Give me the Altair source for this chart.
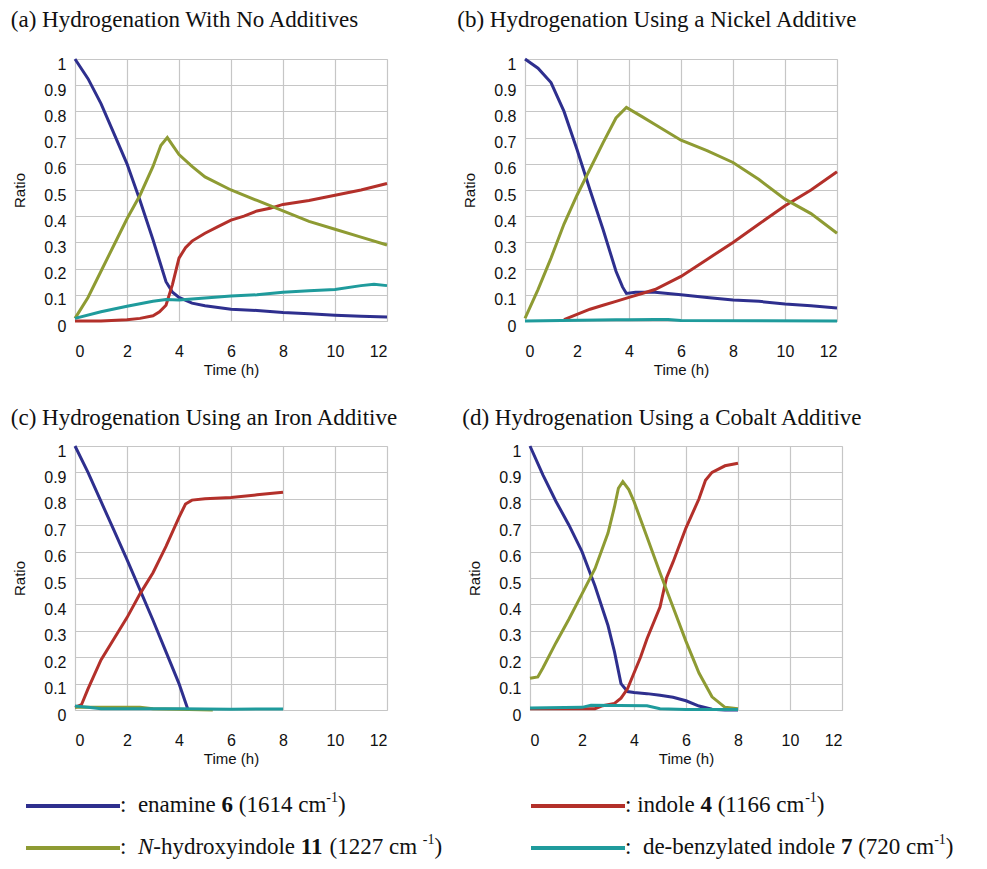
import altair as alt
import pandas as pd

# ---------------- data ----------------
TIME_TICKS = [0, 2, 4, 6, 8, 10, 12]
RATIO_TICKS = [0, 0.1, 0.2, 0.3, 0.4, 0.5, 0.6, 0.7, 0.8, 0.9, 1]

SERIES = ["enamine 6", "indole 4", "N-hydroxyindole 11", "de-benzylated indole 7"]
COLORS = ["#2e2f8e", "#b3302a", "#8e9b33", "#1f9b9c"]

PANEL_TITLES = [
    "(a) Hydrogenation With No Additives",
    "(b) Hydrogenation Using a Nickel Additive",
    "(c) Hydrogenation Using an Iron Additive",
    "(d) Hydrogenation Using a Cobalt Additive",
]

# (a) no additives
A_ENAMINE = [(0, 1.0), (0.5, 0.925), (1, 0.83), (1.5, 0.715), (2, 0.60), (2.5, 0.46), (3, 0.31),
             (3.25, 0.23), (3.5, 0.15), (3.75, 0.11), (4, 0.09), (4.5, 0.068), (5, 0.058), (6, 0.045),
             (7, 0.04), (8, 0.032), (9, 0.028), (10, 0.022), (11, 0.018), (12, 0.015)]
A_INDOLE = [(0, 0.0), (1, 0.0), (2, 0.005), (2.5, 0.01), (3, 0.02), (3.25, 0.035), (3.5, 0.06),
            (3.75, 0.14), (4, 0.24), (4.25, 0.28), (4.5, 0.305), (5, 0.335), (5.5, 0.36),
            (6, 0.385), (6.5, 0.40), (7, 0.42), (7.5, 0.43), (8, 0.445), (9, 0.46), (10, 0.48),
            (11, 0.50), (12, 0.525)]
A_HYDROXY = [(0, 0.01), (0.5, 0.09), (1, 0.19), (1.5, 0.29), (2, 0.39), (2.5, 0.48), (3, 0.59),
             (3.3, 0.67), (3.55, 0.70), (4, 0.635), (4.5, 0.59), (5, 0.55), (6, 0.50), (7, 0.46),
             (7.5, 0.44), (8, 0.42), (9, 0.38), (10, 0.35), (11, 0.32), (12, 0.29)]
A_DEBENZYL = [(0, 0.01), (1, 0.035), (2, 0.056), (3, 0.075), (3.5, 0.082), (4, 0.08), (5, 0.088),
              (6, 0.095), (7, 0.10), (8, 0.11), (9, 0.115), (10, 0.12), (11, 0.135), (11.5, 0.14),
              (12, 0.135)]

# (b) nickel additive
B_ENAMINE = [(0, 1.0), (0.5, 0.965), (1, 0.91), (1.5, 0.80), (2, 0.655), (2.5, 0.50), (3, 0.35),
             (3.5, 0.19), (3.75, 0.13), (3.9, 0.105), (4.25, 0.11), (5, 0.11), (6, 0.10), (7, 0.09),
             (8, 0.08), (9, 0.075), (10, 0.065), (11, 0.058), (12, 0.05)]
B_INDOLE = [(1.5, 0.005), (2, 0.025), (2.5, 0.045), (3, 0.06), (3.5, 0.075), (4, 0.09), (4.5, 0.105),
            (5, 0.12), (6, 0.17), (7, 0.235), (8, 0.30), (9, 0.37), (10, 0.44), (11, 0.50), (12, 0.57)]
B_HYDROXY = [(0, 0.01), (0.5, 0.12), (1, 0.24), (1.5, 0.37), (2, 0.48), (2.5, 0.58), (3, 0.68),
             (3.5, 0.775), (3.9, 0.815), (4.5, 0.78), (5, 0.75), (6, 0.69), (7, 0.65), (8, 0.605),
             (9, 0.54), (10, 0.465), (11, 0.41), (12, 0.335)]
B_DEBENZYL = [(0, 0.0), (3.5, 0.005), (4, 0.005), (5, 0.006), (5.5, 0.006), (6, 0.002), (12, 0.0)]

# (c) iron additive
C_ENAMINE = [(0, 1.0), (0.5, 0.90), (1, 0.79), (1.5, 0.68), (2, 0.57), (2.5, 0.455), (3, 0.34),
             (3.5, 0.22), (4, 0.10), (4.35, 0.0)]
C_INDOLE = [(0, 0.01), (0.25, 0.02), (0.5, 0.08), (1, 0.19), (1.5, 0.27), (2, 0.35), (2.5, 0.44),
            (3, 0.52), (3.5, 0.62), (4, 0.73), (4.25, 0.78), (4.5, 0.795), (5, 0.80), (6, 0.805),
            (7, 0.815), (8, 0.825)]
C_HYDROXY = [(0, 0.01), (2.5, 0.01), (3, 0.005), (5.3, 0.0)]
C_DEBENZYL = [(0, 0.015), (0.5, 0.01), (1, 0.005), (4, 0.005), (6, 0.003), (8, 0.004)]

# (d) cobalt additive
D_ENAMINE = [(0, 1.0), (0.5, 0.89), (1, 0.79), (1.5, 0.70), (2, 0.60), (2.5, 0.47), (3, 0.32),
             (3.25, 0.22), (3.5, 0.10), (3.75, 0.07), (4, 0.066), (4.5, 0.062), (5, 0.056),
             (5.5, 0.048), (6, 0.035), (6.5, 0.015), (7, 0.003), (7.5, 0.0), (8, 0.0)]
D_INDOLE = [(0, 0.005), (2.5, 0.005), (2.75, 0.015), (3.25, 0.025), (3.5, 0.045), (3.75, 0.08),
            (4, 0.14), (4.25, 0.20), (4.5, 0.27), (5, 0.39), (5.25, 0.50), (5.5, 0.56), (6, 0.69),
            (6.5, 0.80), (6.75, 0.87), (7, 0.90), (7.5, 0.925), (8, 0.935)]
D_HYDROXY = [(0, 0.12), (0.3, 0.125), (0.5, 0.16), (1, 0.255), (1.5, 0.345), (2, 0.44), (2.5, 0.535),
             (3, 0.67), (3.25, 0.77), (3.4, 0.84), (3.57, 0.865), (3.8, 0.835), (4, 0.79), (4.5, 0.655),
             (5, 0.52), (5.5, 0.39), (6, 0.26), (6.5, 0.14), (7, 0.05), (7.5, 0.01), (8, 0.005)]
D_DEBENZYL = [(0, 0.008), (2, 0.01), (2.35, 0.018), (4.5, 0.016), (5, 0.005), (6, 0.002), (8, 0.002)]

PANEL_DATA = [
    [A_ENAMINE, A_INDOLE, A_HYDROXY, A_DEBENZYL],
    [B_ENAMINE, B_INDOLE, B_HYDROXY, B_DEBENZYL],
    [C_ENAMINE, C_INDOLE, C_HYDROXY, C_DEBENZYL],
    [D_ENAMINE, D_INDOLE, D_HYDROXY, D_DEBENZYL],
]

# legend texts: (segment, style)
LEGEND_TEXTS = [
    [(":", "normal"), ("  enamine ", "normal"), ("6", "bold"), (" (1614 cm", "normal"),
     ("-1", "sup"), (")", "normal")],
    [(":", "normal"), (" indole ", "normal"), ("4", "bold"), (" (1166 cm", "normal"),
     ("-1", "sup"), (")", "normal")],
    [(":", "normal"), ("  ", "normal"), ("N", "italic"), ("-hydroxyindole ", "normal"), ("11", "bold"),
     (" (1227 cm ", "normal"), ("-1", "sup"), (")", "normal")],
    [(":", "normal"), ("  de-benzylated indole ", "normal"), ("7", "bold"), (" (720 cm", "normal"),
     ("-1", "sup"), (")", "normal")],
]

# ---------------- styling ----------------
SERIF = "Liberation Serif"
SANS = "Liberation Sans"
PW = 312
TITLE_SIZE = 23
LEG_SIZE = 23
SUP_SIZE = 14

color_scale = alt.Scale(domain=SERIES, range=COLORS)


def panel(idx, dx, offset, height):
    rows = []
    for name, pts in zip(SERIES, PANEL_DATA[idx]):
        for t, v in pts:
            rows.append({"t": t, "v": v, "series": name})
    df = pd.DataFrame(rows)
    return alt.Chart(df).mark_line(strokeWidth=3).encode(
        x=alt.X("t:Q", scale=alt.Scale(domain=[0, 12], nice=False),
                axis=alt.Axis(values=TIME_TICKS, format="d", title="Time (h)", grid=True,
                              gridColor="#c6c6c6", gridWidth=1.2, domain=False, ticks=False,
                              tickSize=0, labelFont=SANS, labelFontSize=16, labelColor="#111",
                              labelPadding=22, titleFont=SANS, titleFontSize=15,
                              titleFontWeight="normal", titleColor="#111", titlePadding=3)),
        y=alt.Y("v:Q", scale=alt.Scale(domain=[0, 1], nice=False),
                axis=alt.Axis(values=RATIO_TICKS, format="~g", title="Ratio", grid=True,
                              gridColor="#c6c6c6", gridWidth=1.2, domain=False, ticks=False,
                              tickSize=0, labelFont=SANS, labelFontSize=16, labelColor="#111",
                              labelPadding=9, labelOffset=5, titleFont=SANS, titleFontSize=15,
                              titleFontWeight="normal", titleColor="#111", titlePadding=16)),
        color=alt.Color("series:N", scale=color_scale, legend=None),
        detail="series:N",
    ).properties(
        width=PW, height=height,
        title=alt.TitleParams(PANEL_TITLES[idx], font=SERIF, fontSize=TITLE_SIZE,
                              fontWeight="normal", color="#111", anchor="start",
                              dx=dx, offset=offset),
    )


# ---------------- legend (custom, rich text) ----------------
METRIC = {" ": 250, ":": 278, "(": 333, ")": 333, "-": 333, "a": 444, "b": 500, "c": 444,
          "d": 500, "e": 444, "h": 500, "i": 278, "l": 278, "m": 778, "n": 500, "o": 500,
          "r": 333, "t": 278, "x": 500, "y": 500, "z": 444, "N": 722}


def text_w(s, style):
    size = SUP_SIZE if style == "sup" else LEG_SIZE
    tot = 0
    for ch in s:
        w = METRIC.get(ch, 500)
        if style == "italic" and ch == "N":
            w = 667
        tot += w
    return tot / 1000.0 * size


# legend origin is aligned with the left plot area (page x ~ 75)
LEG_W, LEG_H = 895, 72
LEG_COL_X = [-49, 456]
LEG_ROW_Y = [22, 64]
LINE_LEN = 94

line_rows, text_rows = [], []
for i, name in enumerate(SERIES):
    col, row = i % 2, i // 2
    x0, y0 = LEG_COL_X[col], LEG_ROW_Y[row]
    line_rows.append({"x": x0, "x2": x0 + LINE_LEN, "y": y0, "series": name})
    cur = x0 + LINE_LEN
    for seg, style in LEGEND_TEXTS[i]:
        body = seg.strip(" ")
        lead = len(seg) - len(seg.lstrip(" "))
        if body:
            text_rows.append({"x": cur + text_w(" " * lead, style), "y": y0, "text": body,
                              "style": style})
        cur += text_w(seg, style)

lines_df = pd.DataFrame(line_rows)
text_df = pd.DataFrame(text_rows)

lx = alt.Scale(domain=[0, LEG_W], range=[0, LEG_W])
ly = alt.Scale(domain=[0, LEG_H], range=[0, LEG_H])

leg_lines = alt.Chart(lines_df).mark_rule(strokeWidth=4).encode(
    x=alt.X("x:Q", scale=lx, axis=None), x2="x2:Q",
    y=alt.Y("y:Q", scale=ly, axis=None),
    color=alt.Color("series:N", scale=color_scale, legend=None),
)


def leg_text(style, **kw):
    return alt.Chart(text_df).transform_filter(alt.datum.style == style).mark_text(
        font=SERIF, align="left", baseline="alphabetic", color="#111", **kw
    ).encode(
        x=alt.X("x:Q", scale=lx, axis=None),
        y=alt.Y("y:Q", scale=ly, axis=None),
        text="text:N",
    )


legend = alt.layer(
    leg_lines,
    leg_text("normal", fontSize=LEG_SIZE, dy=6),
    leg_text("bold", fontSize=LEG_SIZE, fontWeight="bold", dy=6),
    leg_text("italic", fontSize=LEG_SIZE, fontStyle="italic", dy=6),
    leg_text("sup", fontSize=SUP_SIZE, dy=-4),
).properties(width=LEG_W, height=LEG_H, view=alt.ViewBackground(stroke="transparent"))

row1 = alt.hconcat(panel(0, -2, 21, 262), panel(1, -5.5, 21, 262), spacing=62)
row2 = alt.hconcat(panel(2, -2, 10, 264), panel(3, -5.5, 10, 264), spacing=62)
panels = alt.vconcat(row1, row2, spacing=28)

chart = alt.concat(panels, legend, columns=1, spacing=16, align="none").properties(
    padding={"left": 2, "top": 0, "right": 0, "bottom": 0}
).configure_view(stroke="#8a8a8a", strokeWidth=2).configure(background="white")

chart.save("out.html", embed_options={"renderer": "svg", "actions": False})
